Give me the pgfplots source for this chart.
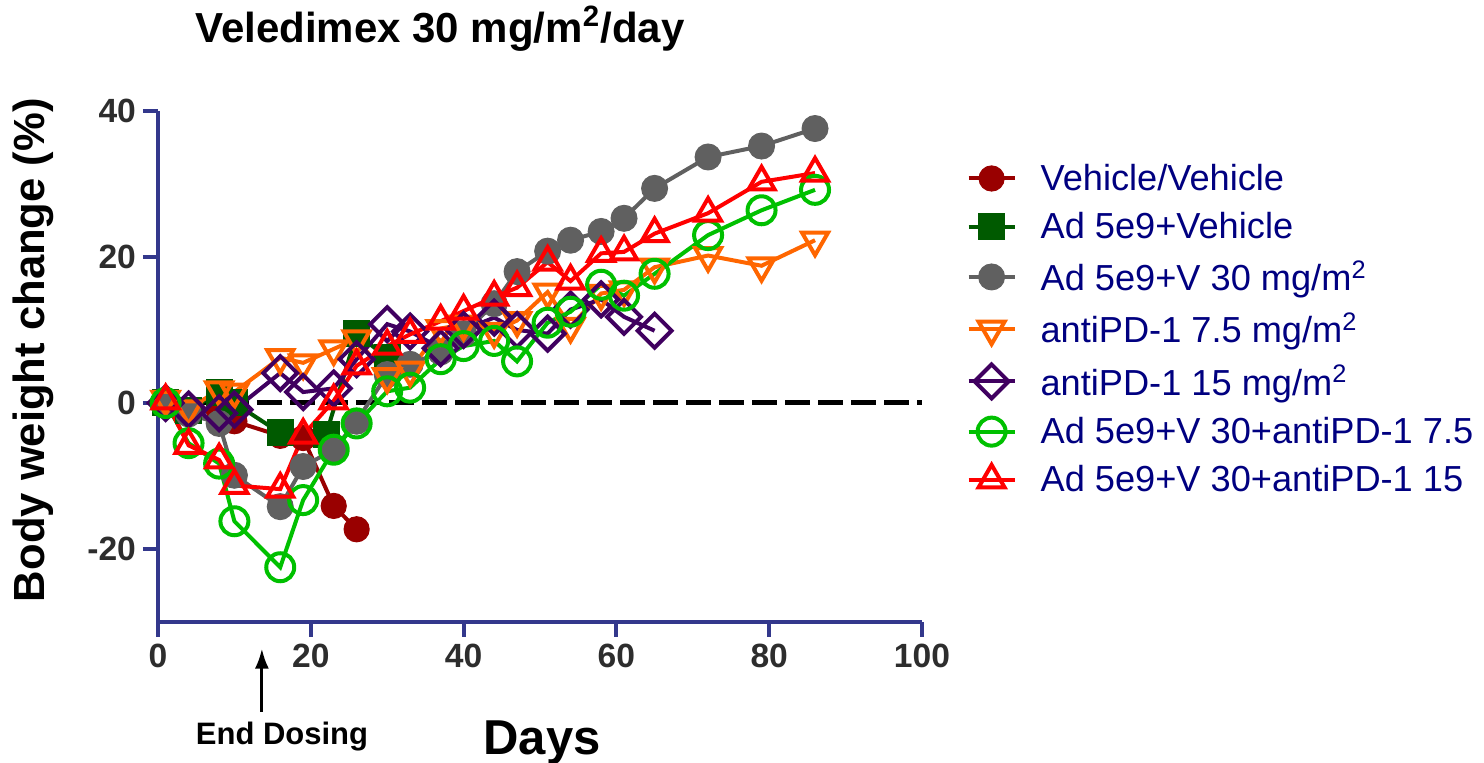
\documentclass[border=0pt]{standalone}
\usepackage{fontspec}
\setmainfont{Liberation Sans}
\usepackage{pgfplots}
\pgfplotsset{compat=1.18}
\usetikzlibrary{arrows.meta}

\definecolor{vehred}{RGB}{153,0,0}
\definecolor{advgreen}{RGB}{0,90,0}
\definecolor{vgray}{RGB}{96,96,96}
\definecolor{pdorange}{RGB}{255,102,0}
\definecolor{pdpurple}{RGB}{64,0,96}
\definecolor{combgreen}{RGB}{0,192,0}
\definecolor{combred}{RGB}{255,0,0}
\definecolor{axisblue}{RGB}{51,56,140}
\definecolor{legnavy}{RGB}{0,0,128}
\definecolor{tickgray}{RGB}{45,45,45}

\begin{document}
\begin{tikzpicture}
\path[use as bounding box] (-79pt,-70.5pt) rectangle (663pt,311pt);
\begin{axis}[
width=382pt,height=255.5pt,scale only axis,
xmin=0,xmax=100,ymin=-30,ymax=40,
xtick={0,20,...,100},
ytick={-20,0,20,40},
axis x line*=bottom,axis y line*=left,
axis line style={color=axisblue,line width=2pt},
tick style={color=axisblue,line width=2pt},
tick align=outside,
major tick length=7.5pt,
/pgf/number format/assume math mode=true,
ticklabel style={font=\bfseries\fontsize{16.8}{18}\selectfont,text=tickgray},
title={Veledimex 30 mg/m\textsuperscript{2}/day},
every axis title/.style={font=\bfseries\fontsize{21}{24}\selectfont,at={(axis description cs:0.369,1.135)},anchor=base},
xlabel={Days},
xlabel style={font=\bfseries\fontsize{24.5}{28}\selectfont,at={(axis description cs:0.5026,-0.26)},anchor=base},
ylabel={Body weight change (\%)},
ylabel style={font=\bfseries\fontsize{21.8}{24}\selectfont,at={(axis description cs:-0.1636,0.532)},anchor=center},
clip=false,
legend cell align=left,
legend style={font=\fontsize{18.1}{21}\selectfont,text=legnavy,draw=none,fill=none,
  at={(1.05,0.913)},anchor=north west,row sep=5.5pt,
  /tikz/every odd column/.append style={column sep=10pt}},
legend image code/.code={
  \draw[mark repeat=2,mark phase=2] plot coordinates {(0pt,0pt) (11.5pt,0pt) (23pt,0pt)};
},
every axis plot/.append style={line width=2pt},
]
% zero line
\addplot[forget plot,black,line width=2.5pt,dash pattern=on 12.5pt off 4pt] coordinates {(0,0) (100,0)};

\addplot[vehred,mark=*,mark size=6.3pt,mark options={solid,fill=vehred,line width=0.5pt}] coordinates {
(1,0) (4,-1) (8,-1.2) (10,-2.5) (16,-4.5) (19,-4.8) (23,-14.1) (26,-17.3)
};
\addplot[advgreen,mark=square*,mark size=6.5pt,mark options={solid,fill=advgreen,line width=0.5pt}] coordinates {
(1,0) (4,-1) (8,1.5) (10,0) (16,-4.1) (22,-4.3) (26,9.5) (30,6.2)
};
\addplot[vgray,mark=*,mark size=6.5pt,mark options={solid,fill=vgray,line width=0.5pt}] coordinates {
(1,0) (4,-1.5) (8,-2.8) (10,-9.9) (16,-14.2) (19,-8.7) (23,-6.4) (26,-2.5)
(30,3.9) (33,5.3) (37,7) (40,9.5) (44,13.6) (47,18) (51,20.8) (54,22.3)
(58,23.5) (61,25.3) (65,29.4) (72,33.7) (79,35.2) (86,37.6)
};
\addplot[pdorange,mark=triangle,mark size=7.5pt,mark options={solid,rotate=180,line width=2pt}] coordinates {
(1,0.5) (4,-0.8) (8,1.8) (10,1.5) (16,6.2) (19,5.5) (23,7.4) (26,8.8)
(30,3.6) (33,4.5) (37,10.2) (40,10.8) (44,9.8) (47,11.3) (51,15.2) (54,10.5)
(58,15) (61,15.5) (65,18.6) (72,20.2) (79,18.8) (86,22.3)
};
\addplot[pdpurple,mark=square,mark size=6pt,mark options={solid,rotate=45,line width=2pt}] coordinates {
(1,0) (4,-0.9) (8,-1.4) (10,-0.9) (16,4.1) (19,1.5) (23,2) (26,6)
(30,10.8) (33,9.8) (37,7.5) (40,10) (44,11.7) (47,10) (51,9.5) (54,12.8)
(58,14.2) (61,11.8) (65,9.9)
};
\addplot[combgreen,mark=o,mark size=7pt,mark options={solid,line width=2pt}] coordinates {
(1,0) (4,-5.5) (8,-8.3) (10,-16.2) (16,-22.5) (19,-13.3) (23,-6.4) (26,-2.8)
(30,1.6) (33,2.1) (37,6) (40,7.8) (44,8.5) (47,5.7) (51,11) (54,12.5)
(58,16.2) (61,14.7) (65,17.7) (72,23) (79,26.4) (86,29.2)
};
\addplot[combred,mark=triangle,mark size=7.5pt,mark options={solid,line width=2pt}] coordinates {
(1,0.3) (4,-5.8) (8,-7.8) (10,-11.3) (16,-11.8) (19,-4.4) (23,0.3) (26,5.1)
(30,7.8) (33,9.4) (37,11.2) (40,12.6) (44,14.5) (47,15.8) (51,19.3) (54,16.7)
(58,20.5) (61,20.7) (65,23.2) (72,26) (79,30.3) (86,31.5)
};
\legend{Vehicle/Vehicle,Ad 5e9+Vehicle,Ad 5e9+V 30 mg/m\textsuperscript{2},antiPD-1 7.5 mg/m\textsuperscript{2},antiPD-1 15 mg/m\textsuperscript{2},Ad 5e9+V 30+antiPD-1 7.5,Ad 5e9+V 30+antiPD-1 15}

\draw[black,line width=1.5pt,-{Latex[length=10pt,width=7pt]}] (axis description cs:0.136,-0.176) -- (axis description cs:0.136,-0.052);
\node[font=\bfseries\fontsize{15.5}{17}\selectfont,anchor=base] at (axis description cs:0.1623,-0.2407) {End Dosing};
\end{axis}
\end{tikzpicture}
\end{document}
